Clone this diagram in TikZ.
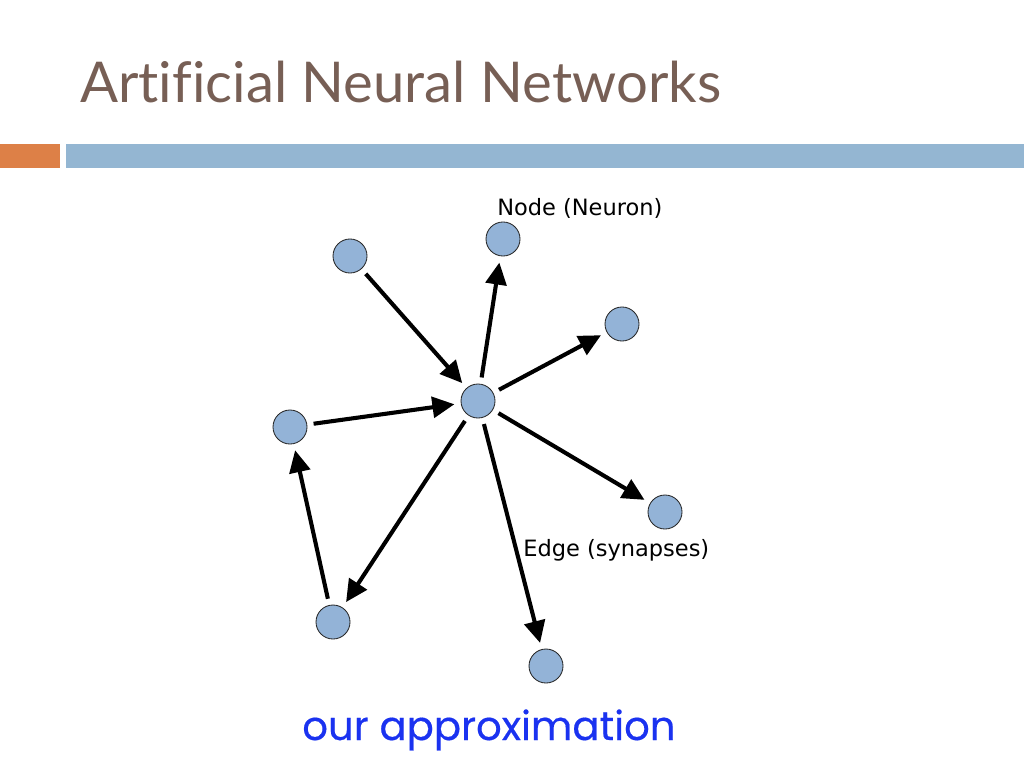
\documentclass[tikz,border=0pt]{standalone}
\usepackage{fontspec}
\setmainfont{DejaVu Sans}
\newfontfamily\titlefont[Ligatures=NoCommon]{Lato}
\newfontfamily\approxfont[FakeBold=0.4]{Poppins}
\usetikzlibrary{arrows.meta}
\definecolor{neuronblue}{HTML}{93B3D7}
\definecolor{barblue}{HTML}{94B6D2}
\definecolor{barorange}{HTML}{DD8047}
\definecolor{titlebrown}{HTML}{775F55}
\definecolor{approxblue}{HTML}{1A32F0}
\begin{document}
\begin{tikzpicture}[x=0.025cm, y=-0.025cm,
  neuron/.style={circle, draw=black!85, line width=0.6pt, fill=neuronblue,
    minimum size=0.85cm, inner sep=0pt, outer sep=0.17cm},
  synapse/.style={-{Triangle[length=0.55cm, width=0.52cm]}, line width=2.9pt}]
\useasboundingbox (0,0) rectangle (1024,768);
\coordinate (In1) at (350,256);
\coordinate (Out1) at (503,239);
\coordinate (Out2) at (622,324);
\coordinate (Ctr) at (478,401);
\coordinate (Loop1) at (290,427);
\coordinate (Out3) at (665,512);
\coordinate (Loop2) at (333,622);
\coordinate (Out4) at (546,666);

% header
\node[anchor=base west, inner sep=0pt, text=titlebrown, font=\titlefont\fontsize{40}{48}\selectfont]
  (title) at (80,103) {Artificial Neural Networks};
\fill[barorange] (0,144) rectangle (60,168);
\fill[barblue] (66,144) rectangle (1024,168);

% neurons
\node[neuron] (n1) at (In1) {};
\node[neuron] (n2) at (Out1) {};
\node[neuron] (n3) at (Out2) {};
\node[neuron] (c) at (Ctr) {};
\node[neuron] (n4) at (Loop1) {};
\node[neuron] (n5) at (Out3) {};
\node[neuron] (n6) at (Loop2) {};
\node[neuron] (n7) at (Out4) {};

% synapses
\draw[synapse] (n1) -- (c);
\draw[synapse] (n4) -- (c);
\draw[synapse] (c) -- (n2);
\draw[synapse] (c) -- (n3);
\draw[synapse] (c) -- (n5);
\draw[synapse] (c) -- (n7);
\draw[synapse] (c) -- (n6);
\draw[synapse] (n6) -- (n4);

\node[anchor=base west, inner sep=0pt, font=\fontsize{16}{19}\selectfont]
  (nodelabel) at (497,215) {Node (Neuron)};
\node[anchor=base west, inner sep=0pt, font=\fontsize{16}{19}\selectfont]
  (edgelabel) at (523,556) {Edge (synapses)};
\node[anchor=base west, inner sep=0pt, text=approxblue, font=\approxfont\fontsize{28.6}{34}\selectfont]
  (approx) at (302,740) {our approximation};
\end{tikzpicture}
\end{document}
